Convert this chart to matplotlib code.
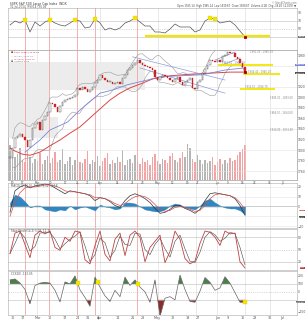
import matplotlib
matplotlib.use('Agg')
import matplotlib.pyplot as plt
import numpy as np
import pandas as pd

W, H = 306, 320

# daily closes
close = [1785, 1804, 1823, 1827, 1830, 1825, 1819, 1806, 1819, 1842,
         1849, 1853, 1838, 1857, 1865, 1872, 1889, 1887, 1882, 1872,
         1884, 1891, 1895, 1896, 1899, 1901, 1905, 1918, 1914, 1920,
         1916, 1910, 1914, 1920, 1927, 1933, 1943, 1937, 1933, 1929,
         1929, 1925, 1927, 1929, 1926, 1937, 1943, 1952, 1956, 1962,
         1965, 1971, 1965, 1962, 1960, 1958, 1956, 1952, 1939, 1933,
         1939, 1943, 1941, 1937, 1933, 1929, 1935, 1939, 1929, 1924,
         1929, 1933, 1937, 1918, 1916, 1929, 1933, 1946, 1954, 1962,
         1971, 1969, 1967, 1971, 1968, 1979, 1981, 1986, 1984, 1984,
         1977, 1972, 1965, 1958, 1948]
volume = [3.9, 3.3, 2.6, 2.9, 3.6, 2.3, 2.0, 3.4, 2.6, 1.9,
          2.4, 2.1, 3.0, 1.8, 2.2, 2.7, 1.9, 2.5, 3.1, 2.0,
          2.3, 3.5, 1.8, 2.1, 2.6, 1.7, 2.2, 2.9, 2.0, 1.9,
          2.4, 3.3, 1.8, 2.2, 2.0, 2.7, 1.6, 2.1, 2.5, 3.0,
          1.8, 2.3, 1.9, 2.6, 2.0, 3.4, 1.7, 2.2, 2.4, 1.9,
          2.8, 2.1, 1.8, 2.5, 2.0, 2.3, 1.7, 2.6, 2.9, 2.1,
          1.8, 2.4, 2.2, 1.9, 2.7, 3.0, 2.3, 2.0, 2.5, 3.2,
          2.6, 4.1, 3.6, 2.4, 2.0, 2.8, 2.2, 1.8, 2.3, 1.9,
          2.1, 2.6, 1.7, 2.0, 2.4, 1.8, 2.2, 1.9, 2.5, 2.1,
          2.3, 2.8, 3.1, 3.5, 3.9]

ma200_day = [0, 2, 5, 8, 12, 16, 20, 24, 28, 32, 36, 40, 44, 48, 53, 57, 64, 72, 80, 88, 94]
ma200 = [1804, 1798, 1792, 1790, 1796, 1808, 1819, 1832, 1844, 1861, 1878, 1895, 1908,
         1918, 1927, 1935, 1941, 1944, 1946, 1948, 1948]
ma50_day = [6, 12, 16, 23, 28, 36, 41, 47, 55, 60, 68, 77, 86, 94]
ma50 = [1796, 1819, 1838, 1853, 1876, 1908, 1914, 1924, 1933, 1939, 1941, 1943, 1952, 1956]

# indicator readings every 2 sessions
osc_day = list(range(0, 95, 2))
rsi = [59.5, 69.0, 64.3, 71.4, 42.9, 66.7, 57.1, 66.7, 71.4, 64.3,
       59.5, 57.1, 64.3, 71.4, 69.0, 52.4, 54.8, 73.8, 64.3, 47.6,
       52.4, 47.6, 52.4, 64.3, 69.0, 76.2, 66.7, 57.1, 57.1, 42.9,
       42.9, 40.5, 50.0, 61.9, 54.8, 54.8, 54.8, 42.9, 47.6, 69.0,
       76.2, 73.8, 64.3, 66.7, 69.0, 59.5, 45.2, 31.0]
macd = [-6, 16, 20, 22, 19, 21, 22, 23, 22, 19, 16, 13, 16, 15, 14, 13, 11, 6, 9, 8,
        5, 1, -1, 6, 11, 13, 11, 8, 4, -2, -7, -6, -3, 1, 1, -2, -4, -7, -3, 6,
        13, 14, 13, 12, 11, 8, 1, -9]
signal = [-10, 5, 14, 19, 20, 20, 21, 22, 22, 21, 19, 16, 15, 15, 14, 13, 12, 9, 9, 8,
          6, 3, 1, 3, 7, 10, 11, 10, 7, 2, -3, -5, -4, -1, 0, -1, -3, -5, -4, 1,
          8, 12, 13, 12, 11, 9, 4, -3]
hist = [4, 12, 10, 5, -1, 1, 1, -3, -4, -5, -3, -4, 1, -3, -1, 0, -2, -4, 2, 0,
        -1, -3, -2, 4, 4, 3, 0, -3, -4, -5, -5, -3, 1, 3, 2, -1, -2, -3, 1, 6,
        8, 4, 1, -1, -2, -2, -4, -8]
stoch = [40, 90, 95, 62, 30, 85, 95, 88, 95, 55, 48, 80, 70, 95, 92, 25, 15, 60, 95, 38,
         22, 75, 90, 35, 85, 95, 80, 20, 55, 70, 85, 18, 45, 95, 75, 28, 15, 22, 65, 95,
         92, 80, 60, 95, 88, 90, 20, 5]
cci = [150, 162, 112, 30, -150, 80, 110, 120, 110, 20, -125, 125, 100, 200, 25, -70,
       -180, 185, 60, -50, -120, 20, -60, 185, 80, 150, 60, 0, -130, 150, -310, -80,
       -60, -100, 210, 30, -120, -130, 10, 180, 120, 20, 50, 190, 110, -10, -130, -130]

event_days = [6, 15.6, 26.8, 34, 50.8]
cci_flag_days = [27, 35, 51, 94]
rsi_support = 33.3
sr_levels = [1961.5, 1944.4, 1916.0]
sr_start = [83, 93, 92]
sr_end = [105, 108, 106]
channel_days = [[49, 86], [52, 86], [82, 90], [84, 92]]
channel_px = [[1977, 1933], [1956, 1908], [1971, 1986], [1960, 1975]]

tick_days = [1, 5, 11, 16, 22, 27, 31, 36, 43, 49, 53, 59, 65, 71, 75, 83, 87, 93, 98, 104, 109]
tick_labels = ['10', '17', 'Mar', '10', '17', '24', '31', 'Apr', '14', '21', '28', 'May',
               '12', '19', '27', 'Jun', '9', '16', '23', '30', 'Jul']
grid_days = [10.8, 36, 59.2, 74.4, 82.8, 94, 104]

fig = plt.figure(figsize=(W / 100, H / 100), dpi=100)


def add_ax(y0, y1, x0=8, x1=297):
    return fig.add_axes([x0 / W, 1 - y1 / H, (x1 - x0) / W, (y1 - y0) / H])


def value_box(ax, v, txt, fc):
    # last-value tag at the right edge, kept inside the picture
    ax.text(1.027, v, txt, transform=ax.get_yaxis_transform(), fontsize=1.6,
            color='white', va='center', ha='right', bbox=dict(fc=fc, ec='none', pad=0.25))


ax_rsi = add_ax(8, 50)
ax_vol = add_ax(50, 180)
ax_px = add_ax(50, 180)
ax_macd = add_ax(183, 228)
ax_st = add_ax(229, 270)
ax_cci = add_ax(271, 315)

for ax in [ax_rsi, ax_vol, ax_px, ax_macd, ax_st, ax_cci]:
    ax.set_xlim(-0.8, 114.8)
    for s in ax.spines.values():
        s.set_color('#aaaaaa')
        s.set_linewidth(0.4)
    ax.yaxis.tick_right()
    ax.tick_params(axis='both', labelsize=2.2, length=0, pad=0.8, colors='#555555')
    ax.set_xticks(tick_days)
    ax.set_xticklabels([])
    if ax is not ax_vol:
        for d in grid_days:
            ax.axvline(d, color='#d8d8d8', lw=0.4, zorder=0)
        for d in event_days:
            ax.axvline(d, color='#f3a5a5', lw=0.6, zorder=0.5)

# volume behind price
ax_px.set_zorder(ax_vol.get_zorder() + 1)
ax_px.patch.set_visible(False)
opens = [close[0]] + close[:-1]
days = np.arange(len(close))
vol_col = ['#f2a3a3' if c < o else '#b5b5b5' for o, c in zip(opens, close)]
ax_vol.bar(days, volume, width=0.6, color=vol_col, linewidth=0)
ax_vol.set_ylim(0, max(volume) / 0.28)
ax_vol.set_yticks([])

# RSI panel
ax_rsi.set_ylim(0, 100)
ax_rsi.set_yticks([50, 70, 90])
ax_rsi.axhline(70, color='#bbbbbb', lw=0.4)
ax_rsi.axhline(50, color='#bbbbbb', lw=0.4, ls=(0, (2, 2)))
ax_rsi.axhline(30, color='#bbbbbb', lw=0.4)
ax_rsi.plot(osc_day, rsi, color='#555555', lw=0.5)
flag = [(d, v) for d, v in zip(osc_day, rsi) if v > 70]
ax_rsi.plot([f[0] for f in flag], [f[1] for f in flag], 's', ms=2.2, color='#f2e600',
            mec='#d8c800', mew=0.2, zorder=3)
ax_rsi.hlines(rsi_support, 54, 104, color='#f2e600', lw=1.6, zorder=2)
ax_rsi.plot(osc_day[-1], rsi[-1], 's', ms=1.2, color='#b00000')
value_box(ax_rsi, rsi[-1], '36.04', '#777777')

# price panel
ax_px.set_ylim(1743, 1990)
ax_px.set_yticks([1760, 1780, 1800, 1820, 1840, 1860, 1880, 1900, 1920, 1980])
for lv in range(1760, 1990, 40):
    ax_px.axhline(lv, color='#e2e2e2', lw=0.4, zorder=0)
ax_px.add_patch(plt.Rectangle((-0.8, 1914), 54.8, 53, color='#ececec', zorder=0.2, lw=0))
ax_px.add_patch(plt.Rectangle((-0.8, 1863), 16.8, 51, color='#ececec', zorder=0.2, lw=0))
ax_px.add_patch(plt.Rectangle((-0.8, 1823), 19.8, 40, color='#ececec', zorder=0.2, lw=0))

cs = pd.Series(close)
mid = cs.rolling(10, min_periods=2).mean()
sd = cs.rolling(10, min_periods=2).std()
ax_px.plot(days, mid + 2 * sd, color='#999999', lw=0.4)
ax_px.plot(days, mid - 2 * sd, color='#999999', lw=0.4)
ax_px.plot(ma200_day, ma200, color='#d84848', lw=0.7)
ax_px.plot(ma50_day, ma50, color='#7c86d6', lw=0.6)
for cd, cp in zip(channel_days, channel_px):
    ax_px.plot(cd, cp, color='#8c9be0', lw=0.5)

body = [c - o for o, c in zip(opens, close)]
face = ['#cc2222' if b < 0 else 'white' for b in body]
edge = ['#cc2222' if b < 0 else '#222222' for b in body]
body = [b if abs(b) > 1.2 else 1.2 for b in body]
ax_px.bar(days, body, bottom=opens, width=0.42, color=face, edgecolor=edge, lw=0.25, zorder=3)

for lv, a, b in zip(sr_levels, sr_start, sr_end):
    ax_px.hlines(lv, a, b, color='#f2e600', lw=1.3, zorder=2)
    ax_px.text(a + 2, lv + 2.5, '%.2f - %.2f' % (lv, lv + 0.7), fontsize=1.8, color='#888888')
for lv in [1895, 1866, 1834]:
    ax_px.text(104, lv + 2, '%.2f - %.2f' % (lv, lv - 1.4), fontsize=1.8, color='#888888')
ax_px.text(96, 1985, '1991.39 - 1985.59', fontsize=1.8, color='#888888')
ax_px.plot(days[-1], close[-1], 's', ms=1.2, color='#b00000', zorder=4)
value_box(ax_px, 1962, '1955.80', '#7c86d6')
value_box(ax_px, 1946, '1948.16', '#555555')
legend_lines = [('■ $SPX (Daily) 1946.16', '#cc2222'), ('— MA(50) 1955.80', '#7c86d6'),
                ('— MA(200) 1948.16', '#d84848'), ('■ Volume 3.3B', '#777777')]
for i, (t, c) in enumerate(legend_lines):
    ax_px.text(0.5, 1986 - i * 5.6, t, fontsize=1.7, color=c, va='top')
ax_px.set_xticklabels(tick_labels)
ax_px.tick_params(axis='x', labelsize=2.0, pad=0.6)

# MACD panel
ax_macd.set_ylim(-22, 24)
ax_macd.set_yticks([-20, 0, 10, 20])
for lv in [-20, -10, 10, 20]:
    ax_macd.axhline(lv, color='#e4e4e4', lw=0.4, zorder=0)
ax_macd.axhline(0, color='#aaaaaa', lw=0.4)
ax_macd.fill_between(osc_day, hist, 0, color='#2f86c0', lw=0.3)
ax_macd.plot(osc_day, macd, color='#333333', lw=0.5)
ax_macd.plot(osc_day, signal, color='#d05050', lw=0.5)
ax_macd.text(0.5, 23, 'MACD(12,26,9) -9.30, -3.12, -6.18', fontsize=2.0, color='#555555', va='top')
value_box(ax_macd, -11, '-9.30', '#555555')
value_box(ax_macd, -4, '-3.12', '#d05050')

# slow stochastic
ax_st.set_ylim(0, 100)
ax_st.set_yticks([20, 50, 80])
ax_st.axhline(80, color='#bbbbbb', lw=0.4)
ax_st.axhline(50, color='#bbbbbb', lw=0.4, ls=(0, (2, 2)))
ax_st.axhline(20, color='#bbbbbb', lw=0.4)
ax_st.plot(osc_day, pd.Series(stoch).rolling(2, min_periods=1).mean(), color='#444444', lw=0.4)
ax_st.plot(osc_day, stoch, color='#c04040', lw=0.6)
ax_st.text(0.5, 99, 'Slow Stoch(14,3) 5.03, 12.71', fontsize=2.0, color='#555555', va='top')
value_box(ax_st, stoch[-1], '5.03', '#c04040')

# CCI
ax_cci.set_ylim(-290, 262)
ax_cci.set_yticks([-250, 0, 100, 200])
ax_cci.axhline(100, color='#bbbbbb', lw=0.4)
ax_cci.axhline(0, color='#bbbbbb', lw=0.4, ls=(0, (2, 2)))
ax_cci.axhline(-100, color='#bbbbbb', lw=0.4)
cc = np.array(cci, dtype=float)
ax_cci.fill_between(osc_day, cc, 100, where=cc > 100, interpolate=True, color='#4d7d4d', lw=0)
ax_cci.fill_between(osc_day, cc, -100, where=cc < -100, interpolate=True, color='#8a2c2c', lw=0)
ax_cci.plot(osc_day, cc, color='#666666', lw=0.5)
ax_cci.plot(cci_flag_days, np.interp(cci_flag_days, osc_day, cc), 's', ms=2.6,
            color='#f2e600', mec='#d8c800', mew=0.2, zorder=3)
ax_cci.text(0.5, 255, 'CCI(20) -131.65', fontsize=2.0, color='#555555', va='top')
value_box(ax_cci, cc[-1], '-131.65', '#777777')
ax_cci.set_xticklabels(tick_labels)
ax_cci.tick_params(axis='x', labelsize=2.4, pad=0.8)

# header
fig.text(10 / W, 1 - 2 / H, '$SPX S&P 500 Large Cap Index  INDX', fontsize=2.2, va='top', color='#333333')
fig.text(10 / W, 1 - 5 / H, '31-Jul-2014  RSI(14) 36.04', fontsize=2.0, va='top', color='#555555')
fig.text(296 / W, 1 - 1.5 / H, '© StockCharts.com', fontsize=1.8, va='top', ha='right', color='#777777')
fig.text(296 / W, 1 - 4.5 / H, 'Open 1965.14  High 1965.14  Low 1930.67  Close 1930.67  Volume 4.1B  Chg -39.40 (-2.00%) ▼',
         fontsize=1.8, va='top', ha='right', color='#444444')

fig.savefig('out.png', dpi=100)
